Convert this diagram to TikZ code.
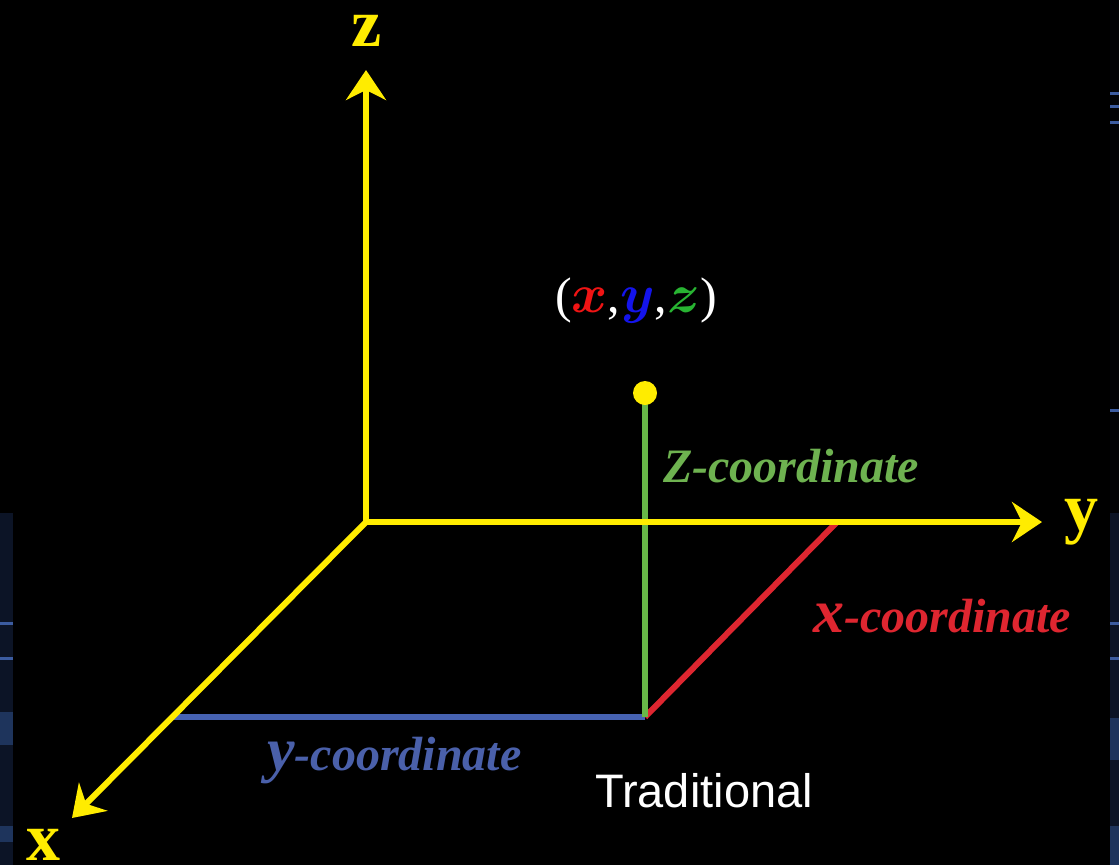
\RequirePackage{fix-cm}
\documentclass[tikz,border=0pt]{standalone}
\usepackage{amsmath}
\usepackage{fontspec}
\usetikzlibrary{arrows.meta,calc}
\newfontfamily\axisfont{Liberation Serif}
\newfontfamily\labfont{Liberation Serif}
\newfontfamily\sansfont{Liberation Sans}
\definecolor{axisyellow}{RGB}{255,236,0}
\definecolor{zgreen}{RGB}{104,184,72}
\definecolor{zgreentext}{RGB}{110,178,80}
\definecolor{xred}{RGB}{222,38,48}
\definecolor{yblue}{RGB}{70,98,178}
\definecolor{ybluetext}{RGB}{74,96,170}
\definecolor{pointblue}{RGB}{20,20,235}
\definecolor{pointred}{RGB}{240,20,20}
\definecolor{pointgreen}{RGB}{40,180,50}
\definecolor{stripnavy}{RGB}{12,20,38}
\definecolor{stripband}{RGB}{30,52,92}
\definecolor{stripline}{RGB}{60,92,160}
\tikzset{
  axisline/.style={draw=axisyellow, line width=6pt, -{Stealth[length=30pt,width=40pt,inset=10pt]}},
  axislabel/.style={text=axisyellow, font=\axisfont\bfseries\fontsize{68}{68}\selectfont, inner sep=0pt, anchor=base},
  coordline/.style={line width=6pt},
  coordlabel/.style={font=\labfont\bfseries\itshape\fontsize{48}{48}\selectfont, inner sep=0pt, anchor=base west},
}
\newcommand{\ptletter}[2]{\textcolor{#1}{\fontsize{55}{55}\selectfont$\boldsymbol{#2}$}}
\begin{document}
\begin{tikzpicture}[x=1pt,y=-1pt]
  \fill[black] (0,0) rectangle (1119,865);
  \useasboundingbox (0,0) rectangle (1119,865);
  % edge strips of the slide background
  \fill[stripnavy] (0,513) rectangle (13,865);
  \fill[stripband] (0,712) rectangle (13,745);
  \fill[stripband] (0,826) rectangle (13,842);
  \fill[stripline] (0,622) rectangle (13,624.5);
  \fill[stripline] (0,657) rectangle (13,659.5);
  \fill[black!85!stripnavy] (1110,0) rectangle (1119,513);
  \fill[stripnavy] (1110,513) rectangle (1119,865);
  \fill[stripband] (1110,718) rectangle (1119,760);
  \fill[stripband] (1110,826) rectangle (1119,865);
  \fill[stripline] (1110,92) rectangle (1119,94.5);
  \fill[stripline] (1110,105) rectangle (1119,107.5);
  \fill[stripline] (1110,121) rectangle (1119,123.5);
  \fill[stripline] (1110,409) rectangle (1119,411.5);
  \fill[stripline] (1110,622) rectangle (1119,624.5);
  \fill[stripline] (1110,657) rectangle (1119,659.5);

  % points
  \coordinate (O) at (366,522);
  \coordinate (ztip) at (366,70);
  \coordinate (ytip) at (1042,522);
  \coordinate (xtip) at (72,818);
  \coordinate (foot) at (645,717);
  \coordinate (xbase) at (172,717);
  \coordinate (yend) at (837,522);
  \coordinate (P) at (645,393);

  % coordinate lines
  \draw[coordline, yblue] (xbase) -- (foot);
  \draw[coordline, xred] (foot) -- (yend);
  \draw[coordline, zgreen] (foot) -- (P);

  % axes
  \draw[axisline] (O) -- (ztip);
  \draw[axisline] (O) -- (ytip);
  \draw[axisline] (O) -- (xtip);
  \draw[draw=axisyellow, line width=6pt, line join=miter] ($(O)!0.1!(ztip)$) -- (O) -- ($(O)!0.1!(ytip)$);

  % point
  \node[circle, fill=axisyellow, minimum size=24pt, inner sep=0pt] (dot) at (P) {};

  % axis labels
  \node[axislabel] (zlab) at (367,46) {z};
  \node[axislabel] (ylab) at (1081,530) {y};
  \node[axislabel] (xlab) at (43,860) {x};

  % coordinate triple
  \node[inner sep=0pt, anchor=base, text=white, font=\labfont\fontsize{50}{50}\selectfont] (triple) at (636,312)
    {(\ptletter{pointred}{x},\ptletter{pointblue}{y},\ptletter{pointgreen}{z})};

  % coordinate labels
  \node[coordlabel, text=zgreentext] (zc) at (663,482) {Z-coordinate};
  \node[coordlabel, text=xred] (xc) at (813,632) {{\fontsize{62}{62}\selectfont x}-coordinate};
  \node[coordlabel, text=ybluetext] (yc) at (267,770) {{\fontsize{62}{62}\selectfont y}-coordinate};

  \node[inner sep=0pt, anchor=base west, text=white, font=\sansfont\fontsize{47}{47}\selectfont] (trad) at (595,807) {Traditional};
\end{tikzpicture}
\end{document}
